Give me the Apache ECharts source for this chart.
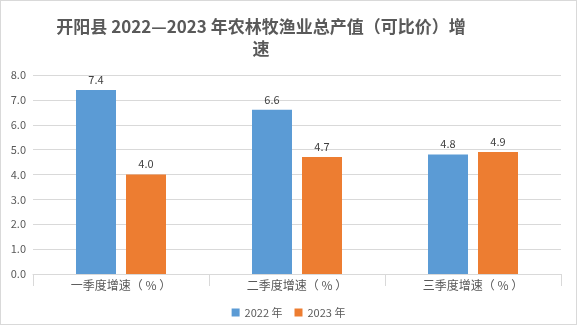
<!DOCTYPE html>
<html><head><meta charset="utf-8">
<script src="https://cdn.jsdelivr.net/npm/echarts@6/dist/echarts.min.js"></script>
<style>html,body{margin:0;padding:0;background:#fff}#c{width:575px;height:323px;border:1px solid #d9d9d9}</style>
</head><body><div id="c"></div>
<script>
const categories = ['一季度增速（ % ）', '二季度增速（ % ）', '三季度增速（ % ）'];
const series2022 = [7.4, 6.6, 4.8];
const series2023 = [4.0, 4.7, 4.9];
const seriesNames = ['2022 年', '2023 年'];
const chart = echarts.init(document.getElementById('c'));
const font = '"Noto Sans CJK SC", "Noto Sans", sans-serif';
chart.setOption({
  animation: false,
  title: {
    text: '开阳县 2022—2023 年农林牧渔业总产值（可比价）增\n速',
    left: 255, top: 10, textAlign: 'center',
    textStyle: {fontFamily: font, fontSize: 17, fontWeight: 'bold', color: '#595959', lineHeight: 22}
  },
  legend: {
    bottom: 1, left: 'center', itemWidth: 8, itemHeight: 8, itemGap: 12, icon: 'rect',
    textStyle: {fontFamily: font, fontSize: 11, color: '#595959'}
  },
  grid: {left: 32, right: 15, top: 74, bottom: 50, containLabel: false},
  xAxis: {
    type: 'category', data: categories,
    axisLine: {lineStyle: {color: '#d9d9d9'}},
    axisTick: {show: true, length: 12, lineStyle: {color: '#d9d9d9'}},
    axisLabel: {fontFamily: font, fontSize: 12, color: '#595959', margin: 5}
  },
  yAxis: {
    type: 'value', min: 0, max: 8, interval: 1,
    axisLine: {show: false}, axisTick: {show: false},
    splitLine: {lineStyle: {color: '#d9d9d9'}},
    axisLabel: {fontFamily: font, fontSize: 11, color: '#595959', formatter: v => v.toFixed(1), margin: 7}
  },
  series: [
    {name: seriesNames[0], type: 'bar', data: series2022, barWidth: 40, barGap: '25%',
     itemStyle: {color: '#5b9bd5'},
     label: {show: true, position: 'top', fontFamily: font, fontSize: 11, color: '#404040', formatter: p => p.value.toFixed(1)}},
    {name: seriesNames[1], type: 'bar', data: series2023, barWidth: 40,
     itemStyle: {color: '#ed7d31'},
     label: {show: true, position: 'top', fontFamily: font, fontSize: 11, color: '#404040', formatter: p => p.value.toFixed(1)}}
  ]
});
</script></body></html>
